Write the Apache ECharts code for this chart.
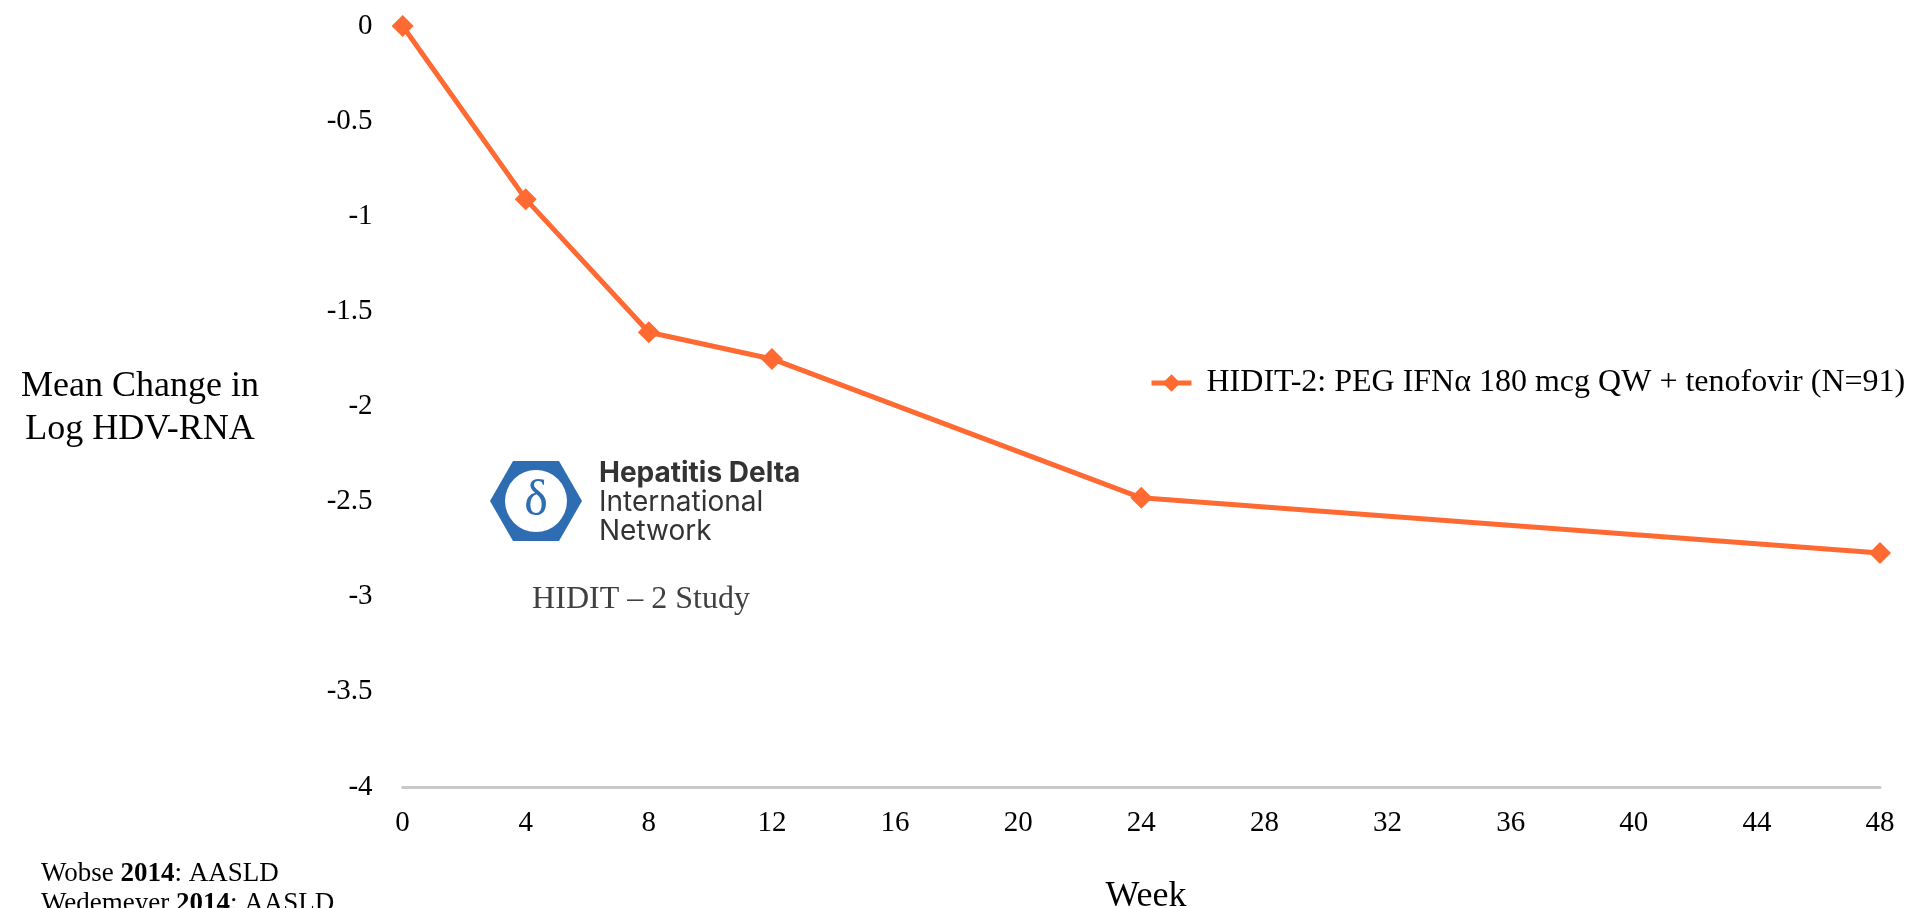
<!DOCTYPE html>
<html><head><meta charset="utf-8">
<script src="https://cdn.jsdelivr.net/npm/echarts@6/dist/echarts.min.js"></script>
<style>html,body{margin:0;padding:0;background:#fff}#c{width:1913px;height:908px}</style>
</head><body><div id="c"></div>
<script>
const weeks = [0, 4, 8, 12, 24, 48];
const meanChange = [0, -0.91, -1.61, -1.75, -2.48, -2.77];
const seriesName = 'HIDIT-2: PEG IFNα 180 mcg QW + tenofovir (N=91)';
const xTicks = [0, 4, 8, 12, 16, 20, 24, 28, 32, 36, 40, 44, 48];
const yTitle = 'Mean Change in\nLog HDV-RNA';
const xTitle = 'Week';
const studyLabel = 'HIDIT – 2 Study';
const refs = [['Wobse ', '2014', ': AASLD'], ['Wedemeyer ', '2014', ': AASLD']];

const serif = '"Liberation Serif", "Times New Roman", serif';
const sans = 'Inter, Roboto, sans-serif';
const orange = '#FF6A33';
const chart = echarts.init(document.getElementById('c'));
chart.setOption({
  animation: false,
  grid: { left: 402.6, right: 33, top: 26, bottom: 121, containLabel: false },
  legend: {
    left: 1144, top: 362, itemWidth: 40, itemHeight: 22,
    lineStyle: { width: 5 },
    textStyle: { fontFamily: serif, fontSize: 32, color: '#000', padding: [0, 0, 0, 10] },
    data: [seriesName]
  },
  xAxis: {
    type: 'value', min: 0, max: 48, interval: 4,
    axisLine: { show: true, onZero: false, lineStyle: { color: '#c8c8c8', width: 3 } },
    axisTick: { show: false }, splitLine: { show: false },
    axisLabel: { fontFamily: serif, fontSize: 29, color: '#000', margin: 22,
      formatter: v => xTicks.includes(v) ? String(v) : '' }
  },
  yAxis: {
    type: 'value', min: -4, max: 0, interval: 0.5,
    axisLine: { show: false }, axisTick: { show: false }, splitLine: { show: false },
    axisLabel: { fontFamily: serif, fontSize: 29, color: '#000', margin: 30 }
  },
  series: [{
    name: seriesName, type: 'line',
    data: weeks.map((w, i) => [w, meanChange[i]]),
    symbol: 'diamond', symbolSize: 22, color: orange,
    lineStyle: { width: 5, color: orange },
    itemStyle: { color: orange }
  }],
  graphic: [
    { type: 'text', x: 140, y: 408, style: { text: yTitle, fontFamily: serif, fontSize: 36, lineHeight: 43, fill: '#000', align: 'center', verticalAlign: 'middle' } },
    { type: 'text', x: 1146, y: 897, style: { text: xTitle, fontFamily: serif, fontSize: 36, fill: '#000', align: 'center', verticalAlign: 'middle' } },
    { type: 'polygon', shape: { points: [[490,501],[513,461],[559,461],[582,501],[559,541],[513,541]] }, style: { fill: '#2E6DB2' } },
    { type: 'circle', shape: { cx: 536, cy: 501, r: 31 }, style: { fill: '#fff' } },
    { type: 'text', x: 536, y: 502, style: { text: 'δ', fontFamily: serif, fontSize: 50, fill: '#2E6DB2', align: 'center', verticalAlign: 'middle' } },
    { type: 'text', x: 599, y: 474, style: { text: 'Hepatitis Delta', fontFamily: sans, fontWeight: 'bold', fontSize: 28, fill: '#333', verticalAlign: 'middle' } },
    { type: 'text', x: 599, y: 503, style: { text: 'International', fontFamily: sans, fontSize: 28, fill: '#333', verticalAlign: 'middle' } },
    { type: 'text', x: 599, y: 532, style: { text: 'Network', fontFamily: sans, fontSize: 28, fill: '#333', verticalAlign: 'middle' } },
    { type: 'text', x: 641, y: 600, style: { text: studyLabel, fontFamily: serif, fontSize: 32, fill: '#404040', align: 'center', verticalAlign: 'middle' } },
    ...refs.map((r, i) => ({ type: 'text', x: 41, y: 874 + i * 30, style: {
      text: '{n|' + r[0] + '}{b|' + r[1] + '}{n|' + r[2] + '}', verticalAlign: 'middle',
      rich: { n: { fontFamily: serif, fontSize: 27, fill: '#000' }, b: { fontFamily: serif, fontSize: 27, fontWeight: 'bold', fill: '#000' } } } }))
  ]
});
</script></body></html>
